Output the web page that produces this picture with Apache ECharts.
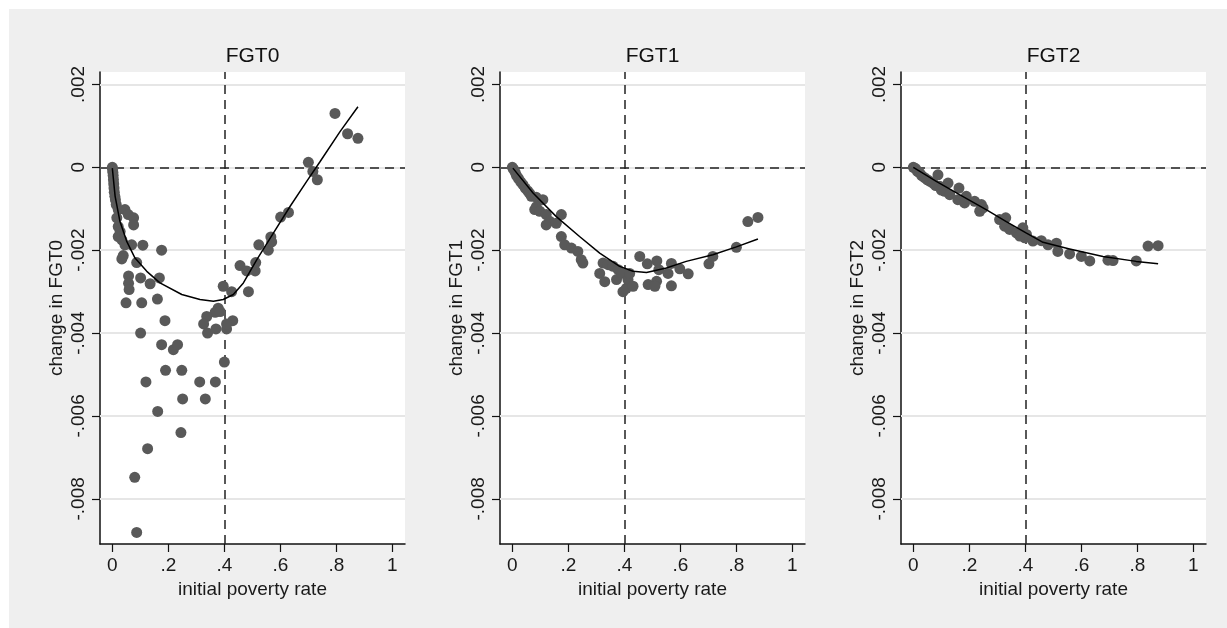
<!DOCTYPE html>
<html>
<head>
<meta charset="utf-8">
<script src="https://cdn.jsdelivr.net/npm/echarts@6/dist/echarts.min.js"></script>
<style>
  html, body { margin: 0; padding: 0; background: #fff; }
  #chart {
    width: 1227px;
    height: 628px;
    background: linear-gradient(#efefef, #efefef) no-repeat 9px 9px / 1218px 619px, #fff;
  }
</style>
</head>
<body>
<div id="chart"></div>
<script>
const panelTitles = ['FGT0', 'FGT1', 'FGT2']
const yAxisNames = ['change in FGT0', 'change in FGT1', 'change in FGT2']
const xAxisName = 'initial poverty rate'
const xTickValues = [0, 0.2, 0.4, 0.6, 0.8, 1]
const xTickLabels = ['0', '.2', '.4', '.6', '.8', '1']
const yTickValues = [0.002, 0, -0.002, -0.004, -0.006, -0.008]
const yTickLabels = ['.002', '0', '-.002', '-.004', '-.006', '-.008']
const povertyLine = 0.4

// scatter points [initial poverty rate, change]
const fgt0Points = [
  [0.000, 0.00000], [0.001, -0.00005], [0.002, -0.00012], [0.003, -0.0002], [0.004, -0.0003],
  [0.005, -0.0004], [0.006, -0.0005], [0.007, -0.0006], [0.009, -0.0007], [0.011, -0.00078],
  [0.014, -0.0009], [0.021, -0.00102], [0.045, -0.00102], [0.057, -0.00114], [0.076, -0.00122],
  [0.076, -0.00139], [0.016, -0.00122], [0.021, -0.00143], [0.028, -0.00155], [0.021, -0.00167],
  [0.034, -0.00175], [0.045, -0.00187], [0.069, -0.00187], [0.109, -0.00188], [0.176, -0.002],
  [0.039, -0.00213], [0.034, -0.00221], [0.087, -0.0023], [0.058, -0.00262], [0.101, -0.00267],
  [0.058, -0.0028], [0.135, -0.00281], [0.168, -0.00267], [0.06, -0.00295], [0.049, -0.00327],
  [0.105, -0.00327], [0.161, -0.00318], [0.188, -0.0037], [0.101, -0.004],
  [0.396, -0.00287], [0.426, -0.003], [0.378, -0.0034], [0.367, -0.0035], [0.337, -0.0036],
  [0.326, -0.00378], [0.34, -0.004], [0.37, -0.0039], [0.408, -0.0039], [0.43, -0.0037],
  [0.408, -0.00378], [0.385, -0.00348],
  [0.176, -0.00428], [0.218, -0.0044], [0.233, -0.00428], [0.4, -0.0047], [0.19, -0.0049],
  [0.248, -0.0049], [0.12, -0.00518], [0.312, -0.00518], [0.368, -0.00518], [0.251, -0.00559],
  [0.332, -0.00559], [0.162, -0.00589], [0.245, -0.0064], [0.126, -0.00679], [0.08, -0.00748],
  [0.087, -0.00881],
  [0.456, -0.00237], [0.48, -0.0025], [0.51, -0.0025], [0.512, -0.0023], [0.486, -0.003],
  [0.523, -0.00187], [0.557, -0.002], [0.566, -0.00168], [0.569, -0.0018], [0.601, -0.0012],
  [0.629, -0.00109], [0.7, 0.00012], [0.716, -0.0001], [0.732, -0.0003], [0.795, 0.0013],
  [0.84, 0.00081], [0.877, 0.0007]
]
const fgt1Points = [
  [0, 0], [0.005, -0.00005], [0.01, -0.00012], [0.015, -0.0002], [0.022, -0.00027],
  [0.03, -0.00035], [0.038, -0.00042], [0.046, -0.0005], [0.055, -0.00057], [0.062, -0.00063],
  [0.068, -0.0007], [0.085, -0.00072], [0.109, -0.00078],
  [0.086, -0.00095], [0.08, -0.00102], [0.098, -0.00106], [0.121, -0.00114], [0.133, -0.0013],
  [0.121, -0.00139], [0.157, -0.00135], [0.175, -0.00114], [0.175, -0.00167], [0.187, -0.00187],
  [0.211, -0.00195], [0.234, -0.00203], [0.246, -0.00223], [0.252, -0.00231],
  [0.312, -0.00256], [0.33, -0.00276], [0.324, -0.00231], [0.342, -0.00235], [0.36, -0.00239],
  [0.378, -0.00247], [0.372, -0.00271], [0.39, -0.00256],
  [0.395, -0.003], [0.407, -0.00292], [0.413, -0.00271], [0.419, -0.00256], [0.431, -0.00287],
  [0.455, -0.00215], [0.482, -0.00233], [0.516, -0.00226], [0.523, -0.00247], [0.485, -0.00283],
  [0.515, -0.00275], [0.509, -0.00287],
  [0.556, -0.00256], [0.568, -0.00232], [0.568, -0.00286], [0.598, -0.00245], [0.628, -0.00257],
  [0.702, -0.00233], [0.716, -0.00215], [0.8, -0.00193], [0.841, -0.00131], [0.877, -0.00121]
]
const fgt2Points = [
  [0, 0], [0.008, -0.00003], [0.015, -0.0001], [0.022, -0.00013], [0.03, -0.0002],
  [0.04, -0.00025], [0.05, -0.0003], [0.06, -0.00034], [0.07, -0.00038], [0.08, -0.00044],
  [0.094, -0.00046], [0.1, -0.00055],
  [0.088, -0.00018], [0.124, -0.00038], [0.112, -0.00058], [0.13, -0.00066], [0.163, -0.0005],
  [0.159, -0.00078], [0.189, -0.0007], [0.183, -0.00086],
  [0.219, -0.00082], [0.243, -0.0009], [0.249, -0.00098], [0.237, -0.00106],
  [0.308, -0.00126], [0.33, -0.00122], [0.326, -0.00142], [0.344, -0.0015], [0.368, -0.00158],
  [0.391, -0.00146], [0.398, -0.0017], [0.404, -0.00162], [0.38, -0.00166],
  [0.427, -0.00178], [0.457, -0.00177], [0.481, -0.00187], [0.511, -0.00183], [0.516, -0.00203],
  [0.558, -0.00209], [0.6, -0.00215], [0.63, -0.00226], [0.695, -0.00224], [0.713, -0.00225],
  [0.796, -0.00226], [0.838, -0.0019], [0.874, -0.00189]
]

// lowess fit lines
const fgt0Fit = [
  [0, -0.00002], [0.01, -0.0007], [0.027, -0.0013], [0.051, -0.00178], [0.081, -0.00219],
  [0.123, -0.00251], [0.17, -0.00279], [0.248, -0.00307], [0.313, -0.00319], [0.361, -0.00323],
  [0.396, -0.00319], [0.432, -0.00307], [0.468, -0.00279], [0.516, -0.00223], [0.575, -0.00159],
  [0.635, -0.00094], [0.694, -0.00034], [0.742, 0.00014], [0.813, 0.00086], [0.877, 0.00146]
]
const fgt1Fit = [
  [0.002, -0.00002], [0.074, -0.00062], [0.157, -0.00119], [0.24, -0.00167], [0.312, -0.00207],
  [0.383, -0.00239], [0.431, -0.00251], [0.479, -0.00254], [0.55, -0.00243], [0.621, -0.00227],
  [0.716, -0.00211], [0.8, -0.00192], [0.877, -0.00173]
]
const fgt2Fit = [
  [0, 0], [0.082, -0.00034], [0.165, -0.00066], [0.26, -0.00102], [0.332, -0.00131],
  [0.404, -0.00159], [0.463, -0.00181], [0.558, -0.00197], [0.677, -0.00215], [0.796, -0.00227],
  [0.874, -0.00233]
]

const panelPoints = [fgt0Points, fgt1Points, fgt2Points]
const panelFits = [fgt0Fit, fgt1Fit, fgt2Fit]

const font = 'Liberation Sans, Arial, Helvetica, sans-serif'
const gridLefts = [100, 500, 901]
const gridTop = 72
const gridWidth = 305
const gridHeight = 472

function pick(values, labels) {
  return function (v) {
    const i = values.findIndex(t => Math.abs(t - v) < 1e-9)
    return i >= 0 ? labels[i] : ''
  }
}

const chart = echarts.init(document.getElementById('chart'))

const grid = []
const xAxis = []
const yAxis = []
const series = []
const graphic = []

panelTitles.forEach((title, i) => {
  grid.push({
    left: gridLefts[i],
    top: gridTop,
    width: gridWidth,
    height: gridHeight,
    show: true,
    backgroundColor: '#fff',
    borderWidth: 0
  })
  xAxis.push({
    type: 'value',
    gridIndex: i,
    min: -0.044,
    max: 1.045,
    name: xAxisName,
    nameLocation: 'middle',
    nameGap: 32,
    nameTextStyle: { fontSize: 19, color: '#1a1a1a', fontFamily: font },
    axisLine: { show: true, onZero: false, lineStyle: { color: '#111', width: 1.5 } },
    axisTick: { show: true, length: 8, customValues: xTickValues, lineStyle: { color: '#111', width: 1.2 } },
    axisLabel: {
      customValues: xTickValues,
      formatter: pick(xTickValues, xTickLabels),
      fontSize: 19,
      color: '#1a1a1a',
      fontFamily: font,
      margin: 12
    },
    splitLine: { show: false }
  })
  yAxis.push({
    type: 'value',
    gridIndex: i,
    min: -0.00909,
    max: 0.0023,
    name: yAxisNames[i],
    nameLocation: 'middle',
    nameGap: 34,
    nameTextStyle: { fontSize: 19, color: '#1a1a1a', fontFamily: font },
    axisLine: { show: true, onZero: false, lineStyle: { color: '#111', width: 1.5 } },
    axisTick: { show: true, length: 8, customValues: yTickValues, lineStyle: { color: '#111', width: 1.2 } },
    axisLabel: {
      customValues: yTickValues,
      formatter: pick(yTickValues, yTickLabels),
      rotate: 90,
      fontSize: 19,
      color: '#1a1a1a',
      fontFamily: font,
      margin: 12
    },
    splitLine: { show: false }
  })

  // light grid lines (own series, drawn first); precision keeps the small values
  series.push({
    type: 'line',
    xAxisIndex: i,
    yAxisIndex: i,
    data: [],
    z: 1,
    silent: true,
    markLine: {
      z: 1,
      silent: true,
      precision: 8,
      symbol: ['none', 'none'],
      label: { show: false },
      lineStyle: { color: '#e6e6e6', width: 2, type: 'solid' },
      data: yTickValues.map(v => ({ yAxis: v }))
    }
  })
  // dashed reference lines at zero change and at the 0.4 poverty rate
  series.push({
    type: 'line',
    xAxisIndex: i,
    yAxisIndex: i,
    data: [],
    z: 1,
    silent: true,
    markLine: {
      z: 1,
      silent: true,
      precision: 8,
      symbol: ['none', 'none'],
      label: { show: false },
      lineStyle: { color: '#222', width: 1.5, type: [9, 6] },
      data: [{ yAxis: 0 }, { xAxis: povertyLine }]
    }
  })
  series.push({
    type: 'scatter',
    xAxisIndex: i,
    yAxisIndex: i,
    data: panelPoints[i],
    symbolSize: 11,
    itemStyle: { color: '#595959', opacity: 1 },
    z: 2
  })
  series.push({
    type: 'line',
    xAxisIndex: i,
    yAxisIndex: i,
    data: panelFits[i],
    showSymbol: false,
    lineStyle: { color: '#000', width: 1.5 },
    z: 3
  })

  graphic.push({
    type: 'text',
    x: gridLefts[i] + gridWidth / 2,
    y: 56.5,
    style: {
      text: title,
      fontSize: 21,
      fontFamily: font,
      fill: '#111',
      align: 'center',
      verticalAlign: 'middle'
    }
  })
})

chart.setOption({
  animation: false,
  grid,
  xAxis,
  yAxis,
  series,
  graphic
})
</script>
</body>
</html>
